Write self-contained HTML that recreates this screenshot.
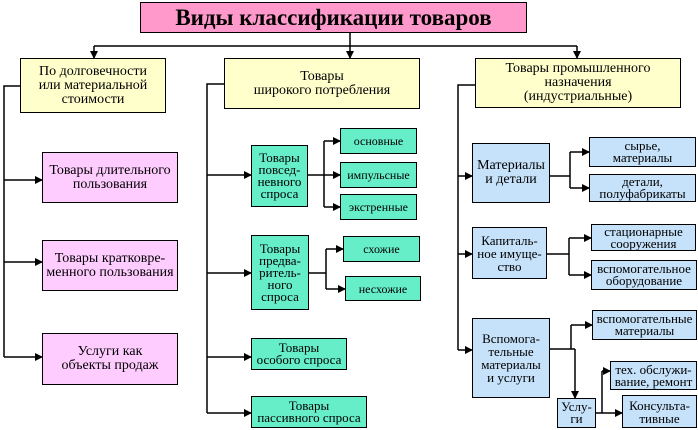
<!DOCTYPE html>
<html><head><meta charset="utf-8"><style>
body{margin:0;width:698px;height:430px;background:#fff;position:relative;overflow:hidden;font-family:"Liberation Serif","Times New Roman","DejaVu Serif",serif;}
.b{position:absolute;box-sizing:border-box;border:1.5px solid #000;display:flex;align-items:center;justify-content:center;text-align:center;font-size:14px;line-height:14px;color:#000;font-family:"Liberation Serif","Times New Roman","DejaVu Serif",serif;}
.y{background:#ffffcc}.p{background:#ffccff}.g{background:#66eec8}.l{background:#c6e2fa}
svg{position:absolute;left:0;top:0}
</style></head><body>
<svg width="698" height="430" stroke="#000" stroke-width="1.5" fill="none">
<defs><marker id="a" markerWidth="8" markerHeight="8" refX="7" refY="4" orient="auto" markerUnits="userSpaceOnUse"><path d="M0,0L8,4L0,8z" fill="#000" stroke="none"/></marker></defs>
<g marker-end="url(#a)">
<path d="M94,46V58"/><path d="M350,46V58"/><path d="M577,46V58"/>
<path d="M4,180H42"/><path d="M4,262H42"/><path d="M4,357H42"/>
<path d="M207,175H251"/><path d="M207,273H251"/><path d="M207,357H251"/><path d="M207,413H251"/>
<path d="M324,141H340"/><path d="M324,175H340"/><path d="M324,207H340"/>
<path d="M326,249H343"/><path d="M326,289H345"/>
<path d="M458,176H472"/><path d="M458,254H472"/><path d="M458,350H472"/>
<path d="M570,152H589"/><path d="M570,188H589"/>
<path d="M569,238H591"/><path d="M569,275H591"/>
<path d="M571,325H592"/><path d="M575,349V398"/>
<path d="M602,371H610"/><path d="M602,413H622"/>
</g>
<path d="M350,33V46M94,46H577"/>
<path d="M20,86H4V357"/>
<path d="M224,84H207V413"/>
<path d="M308,175H324M324,141V207"/>
<path d="M309,273H326M326,249V289"/>
<path d="M475,85H458V350"/>
<path d="M550,176H570M570,152V188"/>
<path d="M547,254H569M569,238V275"/>
<path d="M550,349H575M571,325V349"/>
<path d="M596,413H602M602,371V413"/>
</svg>
<div class="b" style="left:140px;top:2px;width:387px;height:31px;background:#ff99cc;font-size:23px;font-weight:bold">Виды классификации товаров</div>
<div class="b y" style="left:20px;top:58px;width:146px;height:55px">По долговечности<br>или материальной<br>стоимости</div>
<div class="b y" style="left:224px;top:58px;width:196px;height:51px">Товары<br>широкого потребления</div>
<div class="b y" style="left:475px;top:58px;width:206px;height:50px">Товары промышленного<br>назначения<br>(индустриальные)</div>
<div class="b p" style="left:42px;top:152px;width:136px;height:51px">Товары длительного<br>пользования</div>
<div class="b p" style="left:42px;top:240px;width:136px;height:51px">Товары кратковре-<br>менного пользования</div>
<div class="b p" style="left:42px;top:333px;width:136px;height:52px">Услуги как<br>объекты продаж</div>
<div class="b g" style="left:251px;top:145px;width:57px;height:62px;font-size:13px;line-height:12px">Товары<br>повсед-<br>невного<br>спроса</div>
<div class="b g" style="left:340px;top:128px;width:77px;height:26px;font-size:12px">основные</div>
<div class="b g" style="left:340px;top:162px;width:77px;height:26px;font-size:12px">импульсные</div>
<div class="b g" style="left:340px;top:194px;width:77px;height:26px;font-size:12px">экстренные</div>
<div class="b g" style="left:251px;top:235px;width:58px;height:75px;font-size:13px;line-height:12px">Товары<br>предва-<br>ритель-<br>ного<br>спроса</div>
<div class="b g" style="left:343px;top:236px;width:77px;height:26px;font-size:12px">схожие</div>
<div class="b g" style="left:345px;top:276px;width:76px;height:25px;font-size:12px">несхожие</div>
<div class="b g" style="left:251px;top:338px;width:96px;height:32px;font-size:13px;line-height:12px">Товары<br>особого спроса</div>
<div class="b g" style="left:251px;top:396px;width:116px;height:32px;font-size:13px;line-height:12px">Товары<br>пассивного спроса</div>
<div class="b l" style="left:472px;top:143px;width:78px;height:60px">Материалы<br>и детали</div>
<div class="b l" style="left:589px;top:137px;width:107px;height:30px;font-size:13px;line-height:12px">сырье,<br>материалы</div>
<div class="b l" style="left:589px;top:174px;width:107px;height:28px;font-size:13px;line-height:12px">детали,<br>полуфабрикаты</div>
<div class="b l" style="left:472px;top:227px;width:75px;height:52px;font-size:13px;line-height:13px">Капиталь-<br>ное имуще-<br>ство</div>
<div class="b l" style="left:591px;top:224px;width:105px;height:27px;font-size:13px;line-height:12px">стационарные<br>сооружения</div>
<div class="b l" style="left:591px;top:260px;width:106px;height:30px;font-size:13px;line-height:12px">вспомогательное<br>оборудование</div>
<div class="b l" style="left:472px;top:318px;width:78px;height:80px;font-size:13px;line-height:13px">Вспомога-<br>тельные<br>материалы<br>и услуги</div>
<div class="b l" style="left:592px;top:310px;width:105px;height:30px;font-size:13px;line-height:12px">вспомогательные<br>материалы</div>
<div class="b l" style="left:557px;top:398px;width:39px;height:30px;font-size:13px;line-height:12px">Услу-<br>ги</div>
<div class="b l" style="left:610px;top:361px;width:87px;height:29px;font-size:13px;line-height:12px">тех. обслужи-<br>вание, ремонт</div>
<div class="b l" style="left:622px;top:395px;width:75px;height:33px;font-size:13px;line-height:13px">Консульта-<br>тивные</div>
</body></html>
